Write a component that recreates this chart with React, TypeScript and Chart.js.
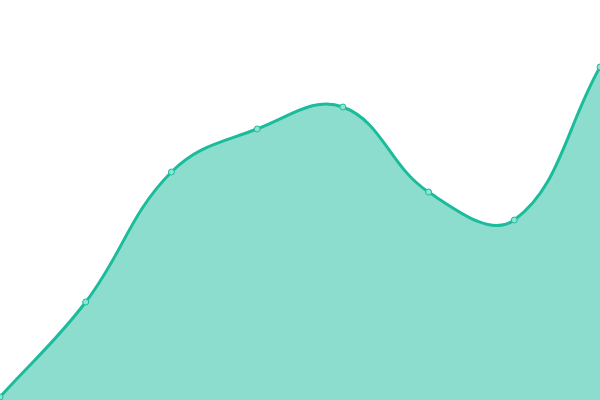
import React, { useEffect, useRef } from "react";
import { Chart, registerables } from "chart.js";

Chart.register(...registerables);

const labels = ["1", "2", "3", "4", "5", "6", "7", "8"];
const values = [3, 98, 228, 271, 293, 208, 180, 333];
const yMin = 0;
const yMax = 400;

export default function App() {
  const ref = useRef<HTMLCanvasElement | null>(null);
  useEffect(() => {
    document.body.style.margin = "0";
    const chart = new Chart(ref.current!, {
      type: "line",
      data: {
        labels,
        datasets: [
          {
            data: values,
            borderColor: "#1abc9c",
            backgroundColor: "rgba(26,188,156,0.5)",
            borderWidth: 3,
            fill: true,
            tension: 0.4,
            pointRadius: 3,
            pointBorderWidth: 1,
            pointBackgroundColor: "#8fe3d2",
            pointBorderColor: "#1abc9c",
          },
        ],
      },
      options: {
        animation: false,
        responsive: true,
        maintainAspectRatio: false,
        layout: { padding: 0, autoPadding: false },
        plugins: { legend: { display: false }, tooltip: { enabled: false } },
        scales: {
          x: { display: false, offset: false },
          y: { display: false, min: yMin, max: yMax },
        },
        datasets: { line: { clip: false } } as any,
      },
    });
    return () => chart.destroy();
  }, []);
  return (
    <div style={{ position: "fixed", left: 0, top: 0, width: 600, height: 400 }}>
      <canvas ref={ref} />
    </div>
  );
}
